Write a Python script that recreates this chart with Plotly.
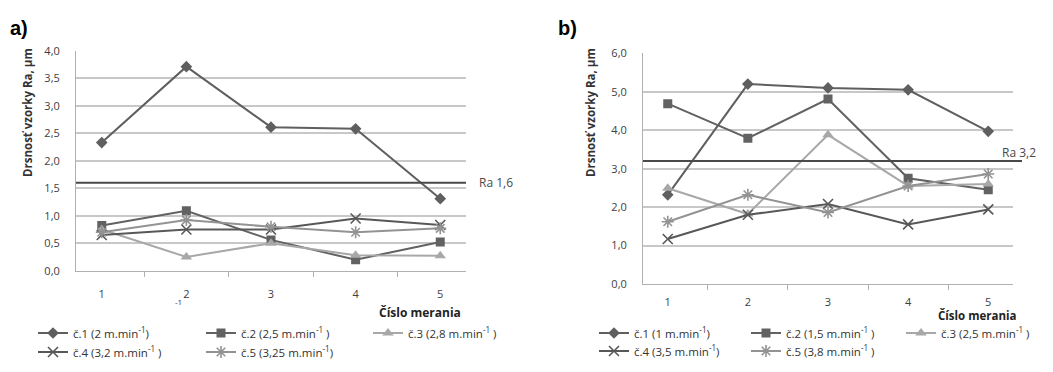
import plotly.graph_objects as go

W, H = 1053, 372

categories = ["1", "2", "3", "4", "5"]

# chart a)
a_names = ["č.1 (2 m.min<sup>-1</sup>)", "č.2 (2,5 m.min<sup>-1</sup> )", "č.3 (2,8 m.min<sup>-1</sup> )",
           "č.4 (3,2 m.min<sup>-1</sup> )", "č.5 (3,25 m.min<sup>-1</sup>)"]
a_s1 = [2.33, 3.71, 2.61, 2.58, 1.31]
a_s2 = [0.82, 1.09, 0.56, 0.20, 0.52]
a_s3 = [0.75, 0.25, 0.50, 0.28, 0.27]
a_s4 = [0.65, 0.75, 0.75, 0.95, 0.83]
a_s5 = [0.70, 0.92, 0.80, 0.70, 0.77]
a_limit = 1.6

# chart b)
b_names = ["č.1 (1 m.min<sup>-1</sup>)", "č.2 (1,5 m.min<sup>-1</sup> )", "č.3 (2,5 m.min<sup>-1</sup> )",
           "č.4 (3,5 m.min<sup>-1</sup>)", "č.5 (3,8 m.min<sup>-1</sup> )"]
b_s1 = [2.32, 5.20, 5.10, 5.05, 3.97]
b_s2 = [4.69, 3.79, 4.81, 2.75, 2.45]
b_s3 = [2.49, 1.82, 3.88, 2.55, 2.60]
b_s4 = [1.17, 1.80, 2.08, 1.55, 1.94]
b_s5 = [1.62, 2.32, 1.86, 2.55, 2.86]
b_limit = 3.2

colors = ["#5f5f5f", "#626262", "#a8a8a8", "#585858", "#939393"]
symbols = ["diamond", "square", "triangle-up", "x-thin", "asterisk"]
sizes = [9, 9, 10, 10, 10]

# legend item positions (pixels): line start x, row centre y
a_leg_pos = [(37, 333), (205, 333), (372, 333), (37, 352), (205, 352)]
b_leg_pos = [(598, 333), (750, 333), (905, 333), (598, 351), (750, 351)]

fig = go.Figure()


def px(x):
    return x / W


def py(y):
    return 1 - y / H


legend_layouts = {}
leg_counter = [0]


def add_series(vals_list, names, xa, ya, positions):
    for i, (vals, name) in enumerate(zip(vals_list, names)):
        leg_counter[0] += 1
        lid = "legend" if leg_counter[0] == 1 else f"legend{leg_counter[0]}"
        open_sym = symbols[i] in ("x-thin", "asterisk")
        fig.add_trace(go.Scatter(
            x=categories, y=vals, name=name, mode="lines+markers",
            xaxis=xa, yaxis=ya, legend=lid,
            line=dict(color=colors[i], width=2),
            marker=dict(symbol=symbols[i], size=sizes[i], color=colors[i],
                        line=dict(color=colors[i], width=1.6 if open_sym else 0)),
        ))
        lx, ly = positions[i]
        legend_layouts[lid] = dict(
            orientation="h", x=px(lx - 4), y=py(ly), xanchor="left", yanchor="middle",
            font=dict(family="Open Sans", size=11.5, color="#333"),
            bgcolor="rgba(0,0,0,0)", borderwidth=0, itemclick=False, itemdoubleclick=False,
        )


add_series([a_s1, a_s2, a_s3, a_s4, a_s5], a_names, "x", "y", a_leg_pos)
add_series([b_s1, b_s2, b_s3, b_s4, b_s5], b_names, "x2", "y2", b_leg_pos)

axis_font = dict(family="Open Sans", size=11, color="#404040")
grid = "#c8c8c8"

xcommon = dict(type="category", tickson="boundaries", ticks="outside", ticklen=5,
               tickcolor="#b0b0b0", showline=True, linecolor="#b0b0b0", linewidth=1,
               showgrid=False, tickfont=axis_font, zeroline=False, fixedrange=True)
ycommon = dict(showgrid=True, gridcolor=grid, gridwidth=1.5, showline=True, linecolor="#b0b0b0",
               tickformat=".1f", tickfont=axis_font, zeroline=False, ticks="", ticklabelstandoff=13)

fig.update_layout(
    width=W, height=H, margin=dict(l=0, r=0, t=0, b=0, autoexpand=False),
    paper_bgcolor="white", plot_bgcolor="white", separators=", ",
    showlegend=True,
    xaxis=dict(domain=[px(76), px(466)], anchor="y", ticklabelstandoff=13, **xcommon),
    yaxis=dict(domain=[py(270.7), py(50.7)], range=[0, 4.0], dtick=0.5, anchor="x", **ycommon),
    xaxis2=dict(domain=[px(643), px(1013)], anchor="y2", ticklabelstandoff=8, **xcommon),
    yaxis2=dict(domain=[py(284), py(53.3)], range=[0, 6.0], dtick=1.0, anchor="x2", **ycommon),
    **legend_layouts,
)

# Ra limit lines
fig.add_shape(type="line", xref="paper", yref="y", x0=px(76), x1=px(466), y0=a_limit, y1=a_limit,
              line=dict(color="#4a4a4a", width=2))
fig.add_shape(type="line", xref="paper", yref="y2", x0=px(643), x1=px(1022), y0=b_limit, y1=b_limit,
              line=dict(color="#4a4a4a", width=2))

ann = []
ann.append(dict(text="Ra 1,6", x=px(477), y=a_limit, xref="paper", yref="y", xanchor="left", yanchor="middle",
                showarrow=False, font=dict(family="Open Sans", size=12, color="#4a4a4a")))
ann.append(dict(text="Ra 3,2", x=px(1000), y=py(152), xref="paper", yref="paper", xanchor="left", yanchor="middle",
                showarrow=False, font=dict(family="Open Sans", size=12, color="#4a4a4a")))
ann.append(dict(text="<b>a)</b>", x=px(8), y=py(28), xref="paper", yref="paper", xanchor="left", yanchor="middle",
                showarrow=False, font=dict(family="Arial", size=20, color="#000")))
ann.append(dict(text="<b>b)</b>", x=px(556), y=py(28), xref="paper", yref="paper", xanchor="left", yanchor="middle",
                showarrow=False, font=dict(family="Arial", size=20, color="#000")))
for xx in (28, 591):
    ann.append(dict(text="<b>Drsnosť vzorky Ra, µm</b>", x=px(xx), y=py(113), xref="paper", yref="paper",
                    xanchor="center", yanchor="middle", textangle=-90, showarrow=False,
                    font=dict(family="Open Sans", size=11.5, color="#333")))
ann.append(dict(text="<b>Číslo merania</b>", x=px(420), y=py(312), xref="paper", yref="paper",
                xanchor="center", yanchor="middle", showarrow=False,
                font=dict(family="Open Sans", size=12, color="#222")))
ann.append(dict(text="<b>Číslo merania</b>", x=px(977), y=py(315), xref="paper", yref="paper",
                xanchor="center", yanchor="middle", showarrow=False,
                font=dict(family="Open Sans", size=11.5, color="#222")))
ann.append(dict(text="-1", x=px(178), y=py(301), xref="paper", yref="paper",
                xanchor="center", yanchor="middle", showarrow=False,
                font=dict(family="Open Sans", size=8, color="#333")))
fig.update_layout(annotations=ann)

fig.write_html("out.html", config={"displayModeBar": False},
               post_script="document.body.style.margin='0';")
